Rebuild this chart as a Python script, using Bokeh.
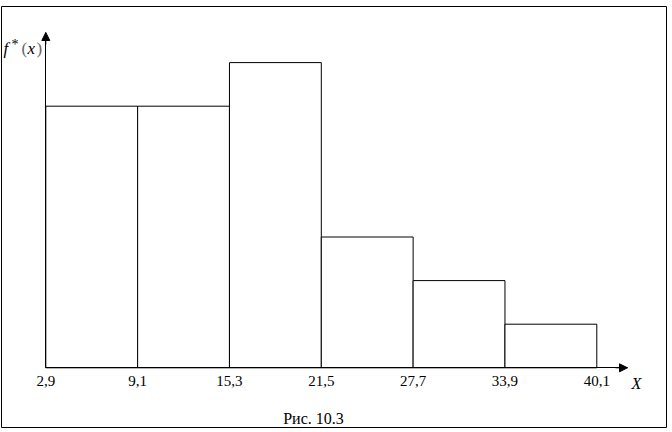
from bokeh.plotting import figure
from bokeh.models import Range1d, FixedTicker, Label, Arrow, NormalHead, LinearAxis
from bokeh.embed import file_html
from bokeh.resources import INLINE

# Interval edges (X) and tick labels
edges = [2.9, 9.1, 15.3, 21.5, 27.7, 33.9, 40.1]
tick_labels = ["2,9", "9,1", "15,3", "21,5", "27,7", "33,9", "40,1"]
# Frequencies per interval
counts = [6, 6, 7, 3, 2, 1]
n_total = 25
width_h = 6.2
density = [c / (n_total * width_h) for c in counts]

# ---- layout (pixels) ----
FRAME_L, FRAME_T, FRAME_W, FRAME_H = 1, 6, 666, 422
PX_X0, PX_X1 = 45.3, 596.3        # pixel x of 2.9 and 40.1
PX_Y0 = 367.3                     # pixel y of f* = 0
PX_PER_COUNT = 43.6               # pixel height of one observation

x_scale = (PX_X1 - PX_X0) / (edges[-1] - edges[0])
y_scale = PX_PER_COUNT * n_total * width_h


def sx(px):
    return edges[0] + (px - PX_X0) / x_scale


def sy(py):
    return (PX_Y0 - py) / y_scale


p = figure(
    frame_width=FRAME_W, frame_height=FRAME_H,
    min_border_left=FRAME_L, min_border_right=0,
    min_border_top=FRAME_T, min_border_bottom=0,
    x_range=Range1d(sx(FRAME_L), sx(FRAME_L + FRAME_W)),
    y_range=Range1d(sy(FRAME_T + FRAME_H), sy(FRAME_T)),
    x_axis_type=None, y_axis_type=None,
    output_backend="svg", toolbar_location=None,
)
p.background_fill_color = "white"
p.border_fill_color = "white"
p.outline_line_color = "black"
p.outline_line_width = 1
p.xgrid.visible = False
p.ygrid.visible = False

x_tip = sx(627)
y_tip = sy(32)

p.quad(left=edges[:-1], right=edges[1:], bottom=0, top=density,
       fill_color="white", line_color="black", line_width=1)

xa = LinearAxis(fixed_location=0, bounds=(edges[0], x_tip),
                ticker=FixedTicker(ticks=edges))
xa.major_label_overrides = {e: t for e, t in zip(edges, tick_labels)}
xa.major_tick_line_color = None
xa.minor_tick_line_color = None
xa.axis_line_color = "black"
xa.major_label_text_font = "Liberation Serif"
xa.major_label_text_font_size = "15px"
xa.major_label_text_color = "black"
xa.major_label_standoff = 2
p.add_layout(xa, "below")

ya = LinearAxis(fixed_location=edges[0], bounds=(0, y_tip),
                ticker=FixedTicker(ticks=[]))
ya.major_tick_line_color = None
ya.minor_tick_line_color = None
ya.axis_line_color = "black"
p.add_layout(ya, "left")

# axis arrow heads
p.add_layout(Arrow(end=NormalHead(size=8, fill_color="black", line_color="black"),
                   x_start=sx(615), y_start=0, x_end=x_tip, y_end=0,
                   line_color="black", line_width=1))
p.add_layout(Arrow(end=NormalHead(size=8, fill_color="black", line_color="black"),
                   x_start=edges[0], y_start=sy(44), x_end=edges[0], y_end=y_tip,
                   line_color="black", line_width=1))

serif = "Liberation Serif"


def add_text(px, py, text, size, style="normal", align="left", color="black"):
    p.add_layout(Label(x=sx(px), y=sy(py), text=text, text_font=serif,
                       text_font_style=style, text_font_size=size,
                       text_align=align, text_baseline="alphabetic",
                       text_color=color))


add_text(3, 48, "f", "17px", "italic")
add_text(11, 44, "*", "14px")
add_text(21, 48, "(", "17px", color="#666666")
add_text(27, 48, "x", "17px", "italic")
add_text(36, 48, ")", "17px", color="#666666")
add_text(636, 383, "X", "16px", "italic", align="center")
add_text(313, 418, "Рис. 10.3", "16px", align="center")

open("out.html", "w").write(file_html(p, INLINE))
